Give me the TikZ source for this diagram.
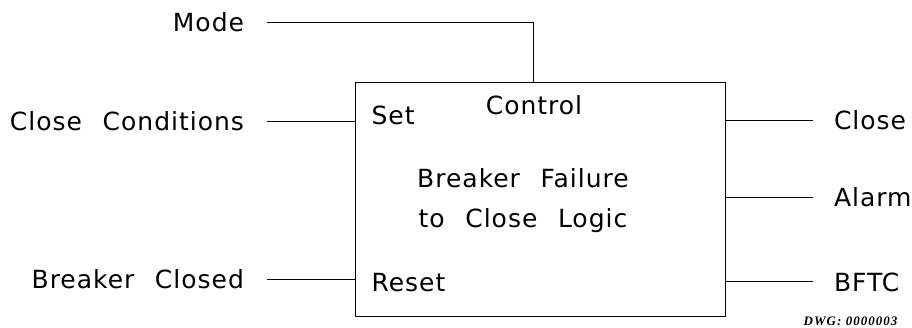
\documentclass[tikz,border=0pt]{standalone}
\usepackage{fontspec}
\setmainfont{DejaVu Sans}[LetterSpace=4.0, WordSpace=2.3]
\newfontfamily\dwgfont{Liberation Serif}[LetterSpace=8.0]
\usetikzlibrary{positioning,calc}

\begin{document}
\begin{tikzpicture}[
        x=1pt, y=-1pt, line width=1pt,
        sig/.style={font=\fontsize{25}{30}\selectfont, inner sep=0pt, text height=18pt, text depth=0pt},
        insig/.style={sig, anchor=east, outer xsep=23pt},
        outsig/.style={sig, anchor=west, outer xsep=21pt},
        port/.style={sig, anchor=west},
        logicbox/.style={draw, minimum width=370pt, minimum height=233pt, inner sep=0pt}
    ]
    \useasboundingbox (0,0) rectangle (912,328);

    % === Logic block ===
    \node[logicbox] (logic) at (540,199.5) {};
    \coordinate (ctl) at (533,83);
    \node[port] (set) at (371,116) {Set};
    \node[port] (reset) at (371,282) {Reset};
    \node[sig, anchor=north] (control) at (534,96) {Control};
    \node[sig] (title1) at (523,179) {Breaker Failure};
    \node[sig] (title2) at (523,219) {to Close Logic};

    % === Inputs ===
    \node[insig] (mode) at (267,23) {Mode};
    \node[insig] (cond) at (267,122) {Close Conditions};
    \node[insig] (closed) at (267,280) {Breaker Closed};
    \draw (mode.east) -| (ctl);
    \draw (cond.east) -- (cond.east -| logic.west);
    \draw (closed.east) -- (closed.east -| logic.west);

    % === Outputs ===
    \node[outsig] (close) at (813,121) {Close};
    \node[outsig] (alarm) at (813,198) {Alarm};
    \node[outsig] (bftc) at (813,282) {BFTC};
    \draw (logic.east |- close.west) -- (close.west);
    \draw (logic.east |- alarm.west) -- (alarm.west);
    \draw (logic.east |- bftc.west) -- (bftc.west);

    % drawing number
    \node[font=\dwgfont\fontsize{13}{15}\selectfont\bfseries\itshape, anchor=base east, inner sep=0pt] (dwg) at (898,326) {DWG: 0000003};

\end{tikzpicture}
\end{document}
